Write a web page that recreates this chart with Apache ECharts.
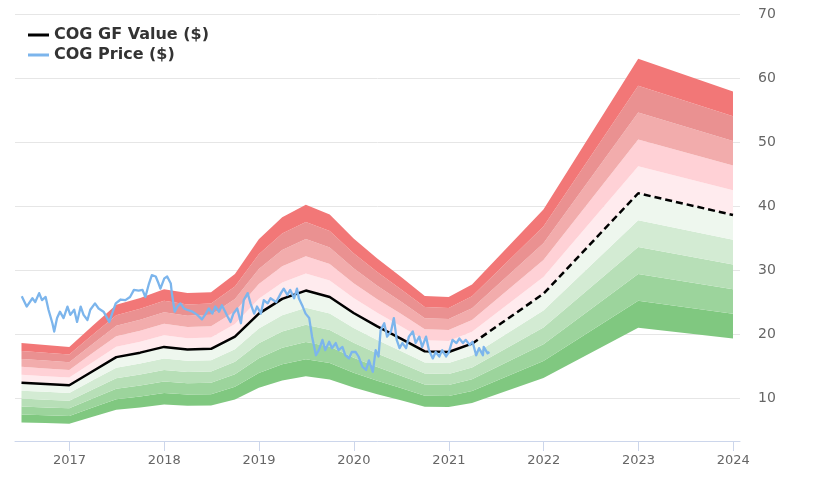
<!DOCTYPE html>
<html>
<head>
<meta charset="utf-8">
<script src="https://cdn.jsdelivr.net/npm/echarts@6/dist/echarts.min.js"></script>
<style>html,body{margin:0;padding:0;background:#fff}#c{width:820px;height:492px}</style>
</head>
<body>
<div id="c"></div>
<script>
// GF value (history, quarterly)
const gfDates = ['2016-06-30','2016-09-30','2016-12-31','2017-03-31','2017-06-30','2017-09-30','2017-12-31','2018-03-31','2018-06-30','2018-09-30','2018-12-31','2019-03-31','2019-06-30','2019-09-30','2019-12-31','2020-03-31','2020-06-30','2020-09-30','2020-12-31','2021-03-31'];
const gfValues = [12.4,12.2,12.0,14.2,16.4,17.1,18.0,17.6,17.7,19.6,23.2,25.5,26.8,25.8,23.3,21.2,19.3,17.3,17.2,18.5];
// GF value (estimates)
const estDates = ['2021-03-31','2021-12-31','2022-12-31','2023-12-31'];
const estValues = [18.5,26.3,42.0,38.6];
// band multipliers
const bandLevels = [0.5,0.6,0.7,0.8,0.9,1.0,1.1,1.2,1.3,1.4,1.5];
const bandColors = ['#80c880','#9cd49c','#b7dfb7','#d3ebd3','#eef7ee','#ffebee','#ffd1d6','#f2acac','#ea9191','#f27777'];
// price
const priceDates = ['2016-07-01','2016-07-20','2016-08-11','2016-08-22','2016-09-06','2016-09-17','2016-10-01','2016-10-12','2016-10-27','2016-11-03','2016-11-14','2016-11-25','2016-12-09','2016-12-24',
'2017-01-04','2017-01-19','2017-01-30','2017-02-13','2017-02-24','2017-03-11','2017-03-22','2017-04-09','2017-04-23','2017-05-12','2017-06-03','2017-06-14','2017-06-28','2017-07-17','2017-08-04','2017-08-22','2017-09-06','2017-09-24','2017-10-09','2017-10-20','2017-11-03','2017-11-14','2017-11-29','2017-12-10','2017-12-17',
'2018-01-01','2018-01-12','2018-01-26','2018-01-30','2018-02-10','2018-02-21','2018-03-04','2018-03-18','2018-03-29','2018-04-20','2018-05-08','2018-05-26','2018-06-10','2018-06-21','2018-07-05','2018-07-16','2018-07-31','2018-08-11','2018-09-02','2018-09-13','2018-09-24','2018-10-09','2018-10-23','2018-11-03','2018-11-18','2018-11-29','2018-12-13','2018-12-24',
'2019-01-08','2019-01-19','2019-02-03','2019-02-14','2019-03-08','2019-03-26','2019-04-06','2019-04-20','2019-05-01','2019-05-16','2019-05-27','2019-06-03','2019-06-18','2019-06-29','2019-07-13','2019-07-24','2019-08-08','2019-08-19','2019-09-02','2019-09-13','2019-09-28','2019-10-09','2019-10-23','2019-11-03','2019-11-18','2019-11-29','2019-12-13','2019-12-24',
'2020-01-08','2020-01-19','2020-02-03','2020-02-17','2020-02-28','2020-03-14','2020-03-25','2020-04-05','2020-04-13','2020-04-27','2020-05-08','2020-05-23','2020-06-03','2020-06-14','2020-06-25','2020-07-06','2020-07-20','2020-07-31','2020-08-15','2020-08-26','2020-09-09','2020-09-20','2020-10-05','2020-10-16','2020-10-31','2020-11-11','2020-11-25','2020-12-06','2020-12-21',
'2021-01-01','2021-01-15','2021-01-30','2021-02-10','2021-02-24','2021-03-07','2021-03-22','2021-04-02','2021-04-16','2021-04-27','2021-05-12','2021-05-15','2021-05-30','2021-06-06'];
const priceValues = [25.9,24.3,25.6,25.0,26.4,25.3,25.8,23.8,21.7,20.4,22.5,23.5,22.5,24.3,
23.0,23.8,21.9,24.3,23.0,22.2,23.8,24.8,24.0,23.5,21.9,23.2,24.8,25.4,25.3,25.8,26.9,26.8,26.9,25.8,27.9,29.2,29.0,27.9,27.1,
28.7,29.0,27.9,26.4,23.5,24.3,24.8,24.0,23.8,23.5,23.0,22.3,23.2,24.0,23.2,24.3,23.5,24.5,22.7,21.9,23.2,24.0,21.7,25.3,26.4,24.8,23.2,24.3,
23.2,25.3,24.8,25.6,25.0,26.4,27.1,26.1,26.9,25.6,27.1,25.6,24.3,23.2,22.5,19.6,16.7,17.5,19.1,17.5,18.8,17.8,18.6,17.5,18.0,16.7,16.2,17.2,
17.2,16.5,14.9,14.4,15.9,14.1,17.5,16.5,20.6,21.7,19.6,20.4,22.5,19.1,17.8,18.6,17.8,19.6,20.4,18.6,19.6,18.0,19.6,17.5,16.2,17.2,16.5,17.5,16.5,
17.2,19.1,18.6,19.3,18.6,19.1,18.3,18.8,16.7,17.8,16.7,18.0,17.0,17.2];

const allDates = gfDates.concat(estDates.slice(1));
const allGf = gfValues.concat(estValues.slice(1));
const font = 'DejaVu Sans';
const YEAR = 365*24*3600*1000;

const series = [];
series.push({
  type:'line', stack:'band', symbol:'none', silent:true,
  lineStyle:{width:0}, areaStyle:{color:'rgba(0,0,0,0)'},
  data: allDates.map((d,i)=>[d, allGf[i]*bandLevels[0]])
});
for (let k=0;k<bandColors.length;k++){
  series.push({
    type:'line', stack:'band', symbol:'none', silent:true,
    lineStyle:{width:0}, areaStyle:{color:bandColors[k], opacity:1},
    data: allDates.map((d,i)=>[d, allGf[i]*(bandLevels[k+1]-bandLevels[k])])
  });
}
series.push({
  name:'COG GF Value ($)', type:'line', symbol:'none', color:'#000',
  lineStyle:{color:'#000', width:2.5}, z:5,
  data: gfDates.map((d,i)=>[d, gfValues[i]])
});
series.push({
  name:'COG GF Value ($)', type:'line', symbol:'none', color:'#000',
  lineStyle:{color:'#000', width:2.5, type:[7,4]}, z:5,
  data: estDates.map((d,i)=>[d, estValues[i]])
});
series.push({
  name:'COG Price ($)', type:'line', symbol:'none', color:'#7cb5ec',
  lineStyle:{color:'#7cb5ec', width:2.3, join:'round'}, z:6,
  data: priceDates.map((d,i)=>[d, priceValues[i]])
});

const chart = echarts.init(document.getElementById('c'), null, {renderer:'canvas'});
chart.setOption({
  animation:false,
  backgroundColor:'#fff',
  grid:{left:15, right:80, top:14, bottom:51, containLabel:false},
  legend:{
    data:['COG GF Value ($)','COG Price ($)'],
    orient:'vertical', left:23, top:22, icon:'rect', itemWidth:21, itemHeight:3, itemGap:4,
    textStyle:{fontFamily:font, fontWeight:'bold', fontSize:16, color:'#333'}
  },
  xAxis:{
    type:'time', min:'2016-06-05', max:'2024-01-27', minInterval:YEAR, maxInterval:YEAR*1.01, splitNumber:8,
    axisLine:{lineStyle:{color:'#ccd6eb', width:1}},
    axisTick:{show:true, length:10, lineStyle:{color:'#ccd6eb'}},
    axisLabel:{formatter:'{yyyy}', showMinLabel:false, showMaxLabel:false, color:'#666', fontSize:13, fontFamily:font, margin:13},
    splitLine:{show:false}
  },
  yAxis:{
    type:'value', position:'right', min:3.3, max:70, splitNumber:7,
    axisLine:{show:false}, axisTick:{show:false},
    axisLabel:{color:'#666', fontSize:14, fontFamily:font, margin:18, showMinLabel:false,
      formatter:v=> (Math.abs(v % 10) < 1e-6 ? String(v) : '')},
    splitLine:{lineStyle:{color:'#e6e6e6', width:1}}
  },
  series: series
});
</script>
</body>
</html>
